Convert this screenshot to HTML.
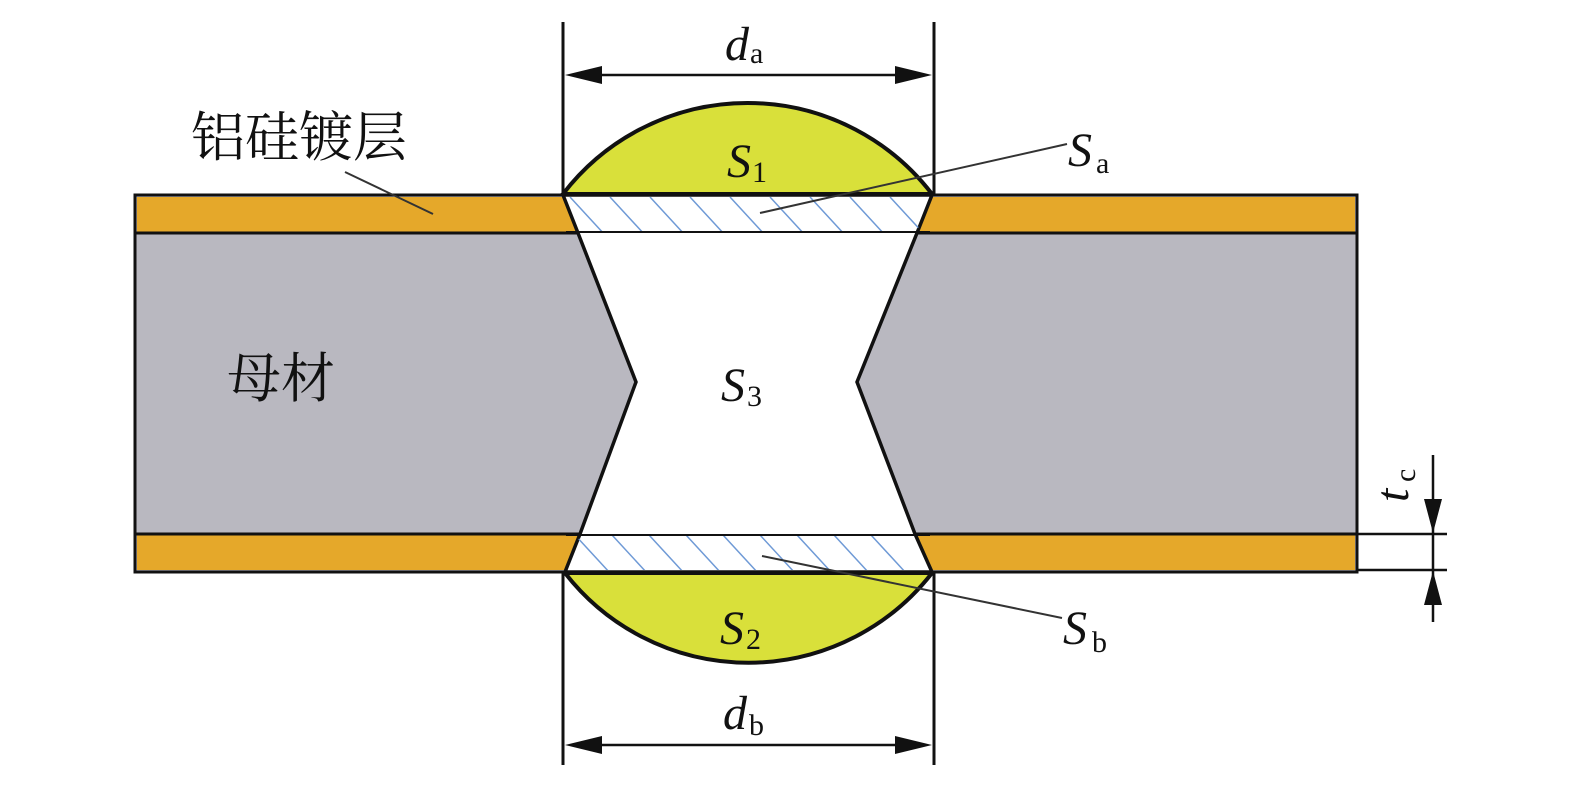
<!DOCTYPE html>
<html><head><meta charset="utf-8"><style>html,body{margin:0;padding:0;background:#fff}svg{display:block}</style></head>
<body>
<svg width="1575" height="791" viewBox="0 0 1575 791" xmlns="http://www.w3.org/2000/svg">
<!-- plates -->
<rect x="135" y="195" width="1222" height="377" fill="#b9b8c0" stroke="#111" stroke-width="3"/>
<rect x="137" y="197" width="1218" height="35" fill="#e5a82a"/>
<rect x="137" y="535" width="1218" height="35" fill="#e5a82a"/>
<line x1="135" y1="233" x2="1357" y2="233" stroke="#111" stroke-width="3"/>
<line x1="135" y1="534" x2="1357" y2="534" stroke="#111" stroke-width="3"/>
<!-- hole -->
<path d="M563,195 L578,233 L636,382 L580,534 L565,572 L932,572 L915,534 L857,382 L917,233 L932,195 Z" fill="#fff" stroke="#111" stroke-width="3.5" stroke-linejoin="miter"/>
<clipPath id="c1"><path d="M566,197 L930,197 L917,231 L578,231 Z"/></clipPath>
<clipPath id="c2"><path d="M580,536 L915,536 L930,570 L566,570 Z"/></clipPath>
<g stroke="#6f9ad6" stroke-width="1.5" clip-path="url(#c1)">
<line x1="570" y1="197" x2="605" y2="235"/><line x1="610" y1="197" x2="645" y2="235"/><line x1="650" y1="197" x2="685" y2="235"/><line x1="690" y1="197" x2="725" y2="235"/><line x1="730" y1="197" x2="765" y2="235"/><line x1="770" y1="197" x2="805" y2="235"/><line x1="810" y1="197" x2="845" y2="235"/><line x1="850" y1="197" x2="885" y2="235"/><line x1="890" y1="197" x2="925" y2="235"/>
</g>
<g stroke="#6f9ad6" stroke-width="1.5" clip-path="url(#c2)">
<line x1="575" y1="535" x2="610" y2="573"/><line x1="612" y1="535" x2="647" y2="573"/><line x1="649" y1="535" x2="684" y2="573"/><line x1="686" y1="535" x2="721" y2="573"/><line x1="723" y1="535" x2="758" y2="573"/><line x1="760" y1="535" x2="795" y2="573"/><line x1="797" y1="535" x2="832" y2="573"/><line x1="834" y1="535" x2="869" y2="573"/><line x1="871" y1="535" x2="906" y2="573"/>
</g>
<line x1="566" y1="535" x2="930" y2="535" stroke="#111" stroke-width="2"/>
<line x1="566" y1="232" x2="930" y2="232" stroke="#111" stroke-width="2"/>
<!-- caps -->
<path d="M563,194 A232.5,232.5 0 0 1 932,194 Z" fill="#d9e03a" stroke="#111" stroke-width="4"/>
<path d="M565,573 A232.5,232.5 0 0 0 932,573 Z" fill="#d9e03a" stroke="#111" stroke-width="4"/>
<!-- dimension lines -->
<g stroke="#111" stroke-width="3">
<line x1="563" y1="22" x2="563" y2="195"/><line x1="934" y1="22" x2="934" y2="195"/>
<line x1="563" y1="572" x2="563" y2="765"/><line x1="934" y1="572" x2="934" y2="765"/>
</g>
<g stroke="#111" stroke-width="2.5">
<line x1="600" y1="75" x2="897" y2="75"/><line x1="600" y1="745" x2="897" y2="745"/>
</g>
<path d="M565,75 L602,66 L602,84 Z M932,75 L895,66 L895,84 Z" fill="#111"/>
<path d="M565,745 L602,736 L602,754 Z M932,745 L895,736 L895,754 Z" fill="#111"/>
<!-- tc -->
<g stroke="#111" stroke-width="2.5">
<line x1="1357" y1="534" x2="1447" y2="534"/><line x1="1357" y1="570" x2="1447" y2="570"/>
<line x1="1433" y1="455" x2="1433" y2="622"/>
</g>
<path d="M1433,533 L1424,499 L1442,499 Z M1433,571 L1424,605 L1442,605 Z" fill="#111"/>
<!-- leaders -->
<g stroke="#333" stroke-width="2">
<line x1="345" y1="172" x2="433" y2="214"/>
<line x1="1067" y1="144" x2="760" y2="213"/>
<line x1="1062" y1="618" x2="762" y2="556"/>
</g>
<!-- labels -->
<g font-family="'Liberation Serif', serif" font-style="italic" font-size="48" fill="#111">
<text x="725" y="60">d</text><text x="727" y="177">S</text><text x="721" y="401">S</text><text x="720" y="644">S</text>
<text x="1068" y="166">S</text><text x="1063" y="644">S</text><text x="723" y="729">d</text>
<text transform="translate(1408,502) rotate(-90)">t</text>
</g>
<g font-family="'Liberation Serif', serif" font-size="30" fill="#111">
<text x="750" y="63">a</text><text x="752" y="182">1</text><text x="747" y="406">3</text><text x="746" y="649">2</text>
<text x="1096" y="173">a</text><text x="1092" y="652">b</text><text x="749" y="735">b</text>
<text transform="translate(1415,482) rotate(-90)">c</text>
</g>
<g font-family="'Liberation Serif','Noto Serif CJK SC', serif" font-size="54" fill="#111">
<text x="191" y="156">铝硅镀层</text>
<text x="227" y="397">母材</text>
</g>
</svg>
</body></html>
